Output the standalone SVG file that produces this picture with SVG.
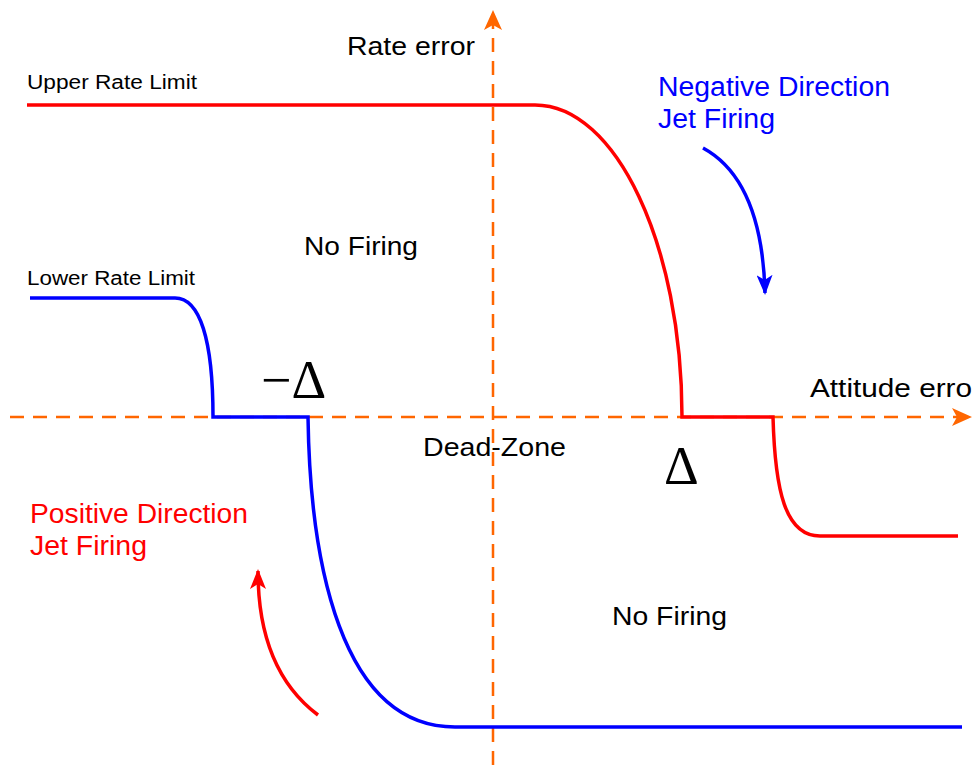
<svg xmlns="http://www.w3.org/2000/svg" width="972" height="765" viewBox="0 0 972 765">
<style>
.axis{stroke:#FF6600;stroke-width:2.5;stroke-dasharray:14 9;fill:none}
.red{stroke:#FF0000;stroke-width:3.5;fill:none}
.blue{stroke:#0000FF;stroke-width:3.5;fill:none}
.t{font-family:"Liberation Sans",Arial,sans-serif;fill:#000}
.s{font-family:"Liberation Serif","Times New Roman",serif;fill:#000;font-size:54px}
</style>
<defs>
<marker id="ab" markerWidth="20" markerHeight="16" refX="18" refY="8" orient="auto" markerUnits="userSpaceOnUse" viewBox="0 0 20 16"><path d="M0,0 L20,8 L0,16 L5,8 Z" fill="#0000FF"/></marker>
<marker id="ar" markerWidth="20" markerHeight="16" refX="18" refY="8" orient="auto" markerUnits="userSpaceOnUse" viewBox="0 0 20 16"><path d="M0,0 L20,8 L0,16 L5,8 Z" fill="#FF0000"/></marker>
</defs>
<rect width="972" height="765" fill="#fff"/>
<g id="connectors">
<path class="axis" d="M493,765 V16"/>
<path d="M493,10 L502,30 L493,25 L484,30 Z" fill="#FF6600"/>
<path class="axis" d="M10,417 H966"/>
<path d="M972,417 L952,426 L957,417 L952,408 Z" fill="#FF6600"/>
</g>
<g id="upper-limit">
<path class="red" d="M27,105 H535 C616,105 682,245 682,417 H773 C775,490 785,536 820,536 H958"/>
</g>
<g id="lower-limit">
<path class="blue" d="M30,298 H175 C200,298 213,340 213,417 H308 C310,560 340,727 455,727 H962"/>
</g>
<g id="neg-arrow">
<path class="blue" d="M703,148 Q762,180 765,293" marker-end="url(#ab)"/>
</g>
<g id="pos-arrow">
<path class="red" d="M318,715 Q258,670 258,571" marker-end="url(#ar)"/>
</g>
<g id="labels">
<text class="t" x="347" y="55" font-size="25" textLength="128" lengthAdjust="spacingAndGlyphs">Rate error</text>
<text class="t" x="27" y="89" font-size="20" textLength="170" lengthAdjust="spacingAndGlyphs">Upper Rate Limit</text>
<text class="t" x="27" y="285" font-size="20" textLength="168" lengthAdjust="spacingAndGlyphs">Lower Rate Limit</text>
<text class="t" x="304" y="255" font-size="26" textLength="114" lengthAdjust="spacingAndGlyphs">No Firing</text>
<text class="t" x="612" y="625" font-size="26" textLength="115" lengthAdjust="spacingAndGlyphs">No Firing</text>
<text class="t" x="423" y="456" font-size="26" textLength="143" lengthAdjust="spacingAndGlyphs">Dead-Zone</text>
<text class="t" x="810" y="397" font-size="26" textLength="172" lengthAdjust="spacingAndGlyphs">Attitude error</text>
<text class="t" x="658" y="96" font-size="27" style="fill:#0000FF" textLength="232" lengthAdjust="spacingAndGlyphs">Negative Direction</text>
<text class="t" x="658" y="128" font-size="27" style="fill:#0000FF" textLength="117" lengthAdjust="spacingAndGlyphs">Jet Firing</text>
<text class="t" x="30" y="523" font-size="27" style="fill:#FF0000" textLength="218" lengthAdjust="spacingAndGlyphs">Positive Direction</text>
<text class="t" x="30" y="555" font-size="27" style="fill:#FF0000" textLength="117" lengthAdjust="spacingAndGlyphs">Jet Firing</text>
<text class="s" x="261" y="398">−Δ</text>
<text class="s" x="664" y="484">Δ</text>
</g>
</svg>
